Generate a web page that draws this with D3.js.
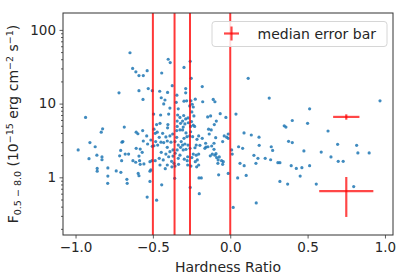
<!DOCTYPE html>
<html>
<head>
<meta charset="utf-8">
<script src="https://cdn.jsdelivr.net/npm/d3@7"></script>
<style>
  body { margin: 0; background: #fff; }
  svg text { font-family: "DejaVu Sans", sans-serif; fill: #262626; }
</style>
</head>
<body>
<div id="chart"></div>
<script>
// hardness ratio of each source (x) and its 0.5-8 keV flux in 1e-15 erg/cm2/s (y)
var hardness = [
  -0.648,-0.631,-0.610,-0.590,-0.562,-0.537,-0.401,-0.388,-0.299,-0.443,-0.259,-0.252,0.116,-0.181,-0.719,-0.590,-0.564,-0.530,-0.504,-0.456,
  -0.405,-0.446,-0.422,-0.375,-0.345,-0.288,-0.288,-0.299,-0.282,-0.254,-0.226,-0.178,-0.110,-0.099,-0.246,-0.239,-0.349,-0.336,-0.430,-0.390,
  -0.398,-0.450,-0.476,-0.454,-0.403,-0.405,-0.493,-0.340,-0.343,-0.325,-0.308,-0.301,-0.288,-0.273,-0.235,-0.248,-0.262,-0.146,-0.127,-0.065,
  -0.028,0.037,-0.140,-0.123,-0.136,-0.094,-0.039,-0.013,-0.023,0.089,0.136,0.186,0.187,-0.935,-0.825,-0.834,-0.685,-0.907,-0.873,-0.983,
  -0.913,-0.862,-0.829,-0.829,-0.860,-0.860,-0.791,-0.791,-0.792,-0.737,-0.707,-0.700,-0.694,-0.708,-0.715,-0.679,-0.702,-0.657,-0.629,-0.611,
  -0.590,-0.608,-0.582,-0.569,-0.608,-0.597,-0.566,-0.562,-0.540,-0.534,-0.513,-0.504,-0.586,-0.558,-0.582,-0.668,-0.666,-0.595,-0.590,-0.519,
  -0.513,-0.506,-0.519,-0.537,-0.476,-0.443,-0.359,-0.259,-0.202,-0.187,-0.200,-0.013,0.019,0.048,0.063,0.090,0.153,0.179,0.168,0.080,
  0.054,0.013,0.009,-0.013,-0.049,-0.080,-0.071,-0.056,-0.045,-0.049,-0.088,-0.075,-0.120,-0.105,-0.157,-0.164,-0.105,-0.144,-0.116,-0.099,
  -0.092,-0.129,-0.078,-0.181,-0.159,-0.196,-0.215,-0.204,-0.220,-0.228,-0.239,-0.220,-0.204,-0.213,-0.226,-0.248,-0.275,-0.278,-0.297,-0.336,
  -0.356,-0.370,-0.379,-0.364,-0.357,-0.334,-0.325,-0.321,-0.336,-0.308,-0.293,-0.273,-0.260,-0.286,-0.304,-0.317,-0.299,-0.280,-0.262,-0.243,
  -0.256,-0.286,-0.308,-0.325,-0.343,-0.346,-0.321,-0.293,-0.271,-0.250,-0.239,-0.230,-0.256,-0.304,-0.372,-0.390,-0.416,-0.407,-0.430,-0.448,
  -0.469,-0.493,-0.482,-0.459,-0.485,-0.472,-0.437,-0.407,-0.390,-0.416,-0.446,-0.433,-0.459,-0.485,-0.454,-0.407,-0.420,-0.377,-0.398,-0.370,
  -0.357,-0.346,-0.383,-0.343,-0.204,-0.217,-0.275,-0.254,-0.519,0.252,0.349,-0.090,-0.103,0.265,0.274,0.226,0.261,0.308,0.321,0.166,
  0.103,0.321,0.360,0.632,0.377,0.401,0.476,0.588,0.694,0.817,0.651,0.825,0.898,0.698,0.730,0.394,0.427,0.463,0.513,0.452,
  0.371,0.556,0.798,0.968,0.513,0.401,0.500,-0.495
];
var flux = [
  49,30,27,24,24,28,40,36,31,26,37.5,22,22,17,14,15,11.4,16,15,14.7,
  14.2,12,11.2,17.5,13,16,14,10.8,10.9,10.9,11.5,10.6,11.4,10.6,9.8,9.0,10.4,8.5,9.9,8.7,
  7.2,7.0,5.2,5.4,5.2,4.7,4.5,7.0,5.8,6.5,5.8,6.9,6.2,6.4,6.8,7.7,9.3,6.6,6.8,7.3,
  6.5,7.2,4.5,4.4,3.87,3.45,3.64,3.87,3.5,4.0,3.75,3.5,2.72,6.5,4.55,4.1,4.8,2.96,2.6,2.35,
  1.79,2.0,1.89,1.73,1.32,1.21,1.34,1.04,0.83,1.22,1.17,3.0,3.05,2.32,1.96,2.07,1.68,2.07,1.68,1.6,
  1.94,2.47,2.42,2.18,4.1,3.9,4.3,3.11,3.64,2.83,3.21,2.63,1.68,1.52,1.5,0.94,0.83,1.13,1.05,0.88,
  1.26,1.68,1.63,0.54,0.49,0.79,0.97,0.73,0.98,0.98,0.6,1.13,0.39,0.98,1.55,1.44,1.99,1.81,0.45,2.47,
  2.6,2.07,2.35,3.38,3.05,1.55,1.89,1.68,1.63,1.5,1.85,1.08,2.66,2.9,2.58,2.47,2.4,2.6,2.07,2.0,
  2.09,1.96,1.72,3.38,2.9,2.72,3.28,3.64,2.74,2.52,2.07,2.0,2.07,1.72,1.63,1.85,1.9,1.68,1.76,1.81,
  2.12,1.94,1.65,1.55,1.42,1.5,2.0,2.55,2.74,2.74,2.83,2.74,2.47,2.4,2.35,3.05,3.38,3.56,3.64,3.56,
  4.15,4.0,4.4,4.4,4.9,4.3,5.4,5.3,5.5,5.7,5.1,4.9,4.9,4.8,3.87,3.64,3.53,3.11,2.96,3.0,
  2.74,2.68,3.05,3.49,3.95,4.1,3.95,2.55,2.23,2.07,2.18,1.72,1.81,1.68,1.47,1.47,1.31,1.39,1.9,2.35,
  3.05,3.49,3.0,2.35,1.47,1.39,1.47,1.42,1.21,11.9,5.0,5.8,5.2,2.6,2.32,1.81,1.73,1.58,1.58,1.55,
  1.06,0.88,4.8,4.25,3.08,2.96,2.28,2.2,2.8,2.72,1.89,2.14,2.14,1.65,1.65,1.44,1.32,1.35,1.44,1.04,
  0.81,0.81,0.75,10.9,8.5,5.9,5.4,7.2
];

// red vertical lines
var lineHR = [-0.5, -0.36, -0.26, 0.0];

// two median error bars
var errHR = [0.75, 0.75];
var errFlux = [6.6, 0.65];
var errXSize = [0.085, 0.175];
var errYSize = [0.55, 0.36];

var xTicks = [-1.0, -0.5, 0.0, 0.5, 1.0];
var yTicks = [1, 10, 100];
var yMinor = [0.2,0.3,0.4,0.5,0.6,0.7,0.8,0.9,2,3,4,5,6,7,8,9,20,30,40,50,60,70,80,90];

var margin = {top: 13, right: 22, bottom: 42, left: 63};
var width = 415, height = 277;
var w = width - margin.left - margin.right;
var h = height - margin.top - margin.bottom;

var svg = d3.select("#chart").append("svg")
    .attr("width", width)
    .attr("height", height);

var g = svg.append("g")
    .attr("transform", "translate(" + margin.left + "," + margin.top + ")");

var x = d3.scaleLinear().domain([-1.081, 1.052]).range([0, w]);
var y = d3.scaleLog().domain([0.165, 169.5]).range([h, 0]);

var points = d3.range(hardness.length).map(function(i){ return {hr: hardness[i], f: flux[i]}; });

g.append("defs").append("clipPath").attr("id", "clip")
  .append("rect").attr("width", w).attr("height", h);

var plot = g.append("g").attr("clip-path", "url(#clip)");

plot.selectAll("circle")
    .data(points).enter()
    .append("circle")
    .attr("cx", function(d){ return x(d.hr); })
    .attr("cy", function(d){ return y(d.f); })
    .attr("r", 1.6)
    .attr("fill", "#1f77b4")
    .attr("fill-opacity", 0.85);

plot.selectAll(".vline")
    .data(lineHR).enter()
    .append("line")
    .attr("class", "vline")
    .attr("x1", function(d){ return x(d); })
    .attr("x2", function(d){ return x(d); })
    .attr("y1", 0)
    .attr("y2", h)
    .attr("stroke", "red")
    .attr("stroke-opacity", 0.78)
    .attr("stroke-width", 2);

// error bars
var errs = d3.range(errHR.length).map(function(i){
  return {hr: errHR[i], f: errFlux[i], dx: errXSize[i], dy: errYSize[i]};
});
var eb = plot.selectAll(".err").data(errs).enter().append("g").attr("class", "err");
eb.append("line")
    .attr("x1", function(d){ return x(d.hr - d.dx); })
    .attr("x2", function(d){ return x(d.hr + d.dx); })
    .attr("y1", function(d){ return y(d.f); })
    .attr("y2", function(d){ return y(d.f); });
eb.append("line")
    .attr("x1", function(d){ return x(d.hr); })
    .attr("x2", function(d){ return x(d.hr); })
    .attr("y1", function(d){ return y(d.f + d.dy); })
    .attr("y2", function(d){ return y(d.f - d.dy); });
eb.selectAll("line")
    .attr("stroke", "red")
    .attr("stroke-opacity", 0.72)
    .attr("stroke-width", 2.2);

// axes
var xAxis = d3.axisBottom(x).tickValues(xTicks).tickFormat(d3.format(".1f")).tickSize(3.5).tickPadding(3.5);
var gx = g.append("g")
    .attr("transform", "translate(0," + h + ")")
    .call(xAxis);

var yAxis = d3.axisLeft(y).tickValues(yTicks).tickFormat(d3.format("d")).tickSize(3.5).tickPadding(3.5);
var gy = g.append("g").call(yAxis);

g.append("g")
    .call(d3.axisLeft(y).tickValues(yMinor).tickFormat("").tickSize(2))
    .call(function(s){ s.select(".domain").remove(); });

g.selectAll(".domain").remove();
g.selectAll(".tick line").attr("stroke", "#333").attr("stroke-width", 0.8);
g.selectAll(".tick text")
    .attr("font-family", "DejaVu Sans, sans-serif")
    .attr("font-size", 13.5)
    .attr("fill", "#262626");

// frame
g.append("rect")
    .attr("x", 0).attr("y", 0)
    .attr("width", w).attr("height", h)
    .attr("fill", "none")
    .attr("stroke", "#333")
    .attr("stroke-width", 1);

// axis labels
g.append("text")
    .attr("x", w / 2)
    .attr("y", h + 37)
    .attr("text-anchor", "middle")
    .attr("font-size", 14)
    .text("Hardness Ratio");

var yl = svg.append("text")
    .attr("transform", "translate(18," + (margin.top + h / 2) + ") rotate(-90)")
    .attr("text-anchor", "middle")
    .attr("font-size", 14);
yl.append("tspan").text("F");
yl.append("tspan").attr("font-size", 9.5).attr("dy", 3).text("0.5 − 8.0");
yl.append("tspan").attr("dy", -3).text(" (10");
yl.append("tspan").attr("font-size", 9.5).attr("dy", -5).text("−15");
yl.append("tspan").attr("dy", 5).text(" erg cm");
yl.append("tspan").attr("font-size", 9.5).attr("dy", -5).text("−2");
yl.append("tspan").attr("dy", 5).text(" s");
yl.append("tspan").attr("font-size", 9.5).attr("dy", -5).text("−1");
yl.append("tspan").attr("dy", 5).text(")");

// legend
var lg = svg.append("g").attr("transform", "translate(212,21.5)");
lg.append("rect")
    .attr("width", 175).attr("height", 25)
    .attr("rx", 3)
    .attr("fill", "#fff").attr("fill-opacity", 0.85)
    .attr("stroke", "#d6d6d6");
lg.append("line").attr("x1", 12).attr("x2", 27).attr("y1", 12).attr("y2", 12)
    .attr("stroke", "red").attr("stroke-opacity", 0.72).attr("stroke-width", 2.2);
lg.append("line").attr("x1", 19.5).attr("x2", 19.5).attr("y1", 5).attr("y2", 19)
    .attr("stroke", "red").attr("stroke-opacity", 0.72).attr("stroke-width", 2.2);
lg.append("text")
    .attr("x", 45.5).attr("y", 17)
    .attr("font-size", 14)
    .text("median error bar");
</script>
</body>
</html>
